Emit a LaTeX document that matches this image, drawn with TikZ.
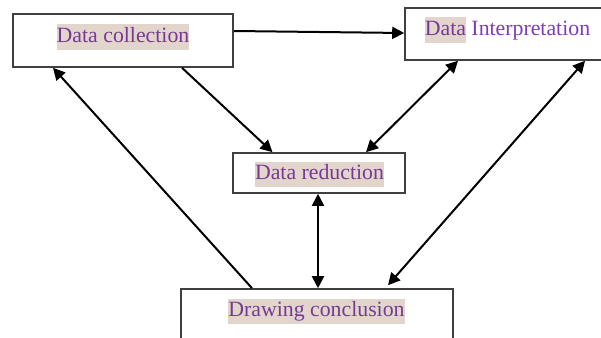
\documentclass[tikz,border=0pt]{standalone}
\usepackage{fontspec}
\setmainfont{Liberation Serif}
\usetikzlibrary{arrows.meta,calc}
\definecolor{hlbg}{RGB}{226,213,204}
\definecolor{txtp}{RGB}{118,58,150}
\definecolor{txtp2}{RGB}{126,60,182}
\definecolor{boxc}{RGB}{64,64,64}
\newcommand{\hlt}[1]{{\setlength{\fboxsep}{0pt}\colorbox{hlbg}{\strut #1}}}
\tikzset{
  box/.style={draw=boxc, line width=1.6pt, fill=white, inner sep=0pt},
  lbl/.style={inner sep=0pt, text=txtp, font=\fontsize{21.8}{25}\selectfont},
  conn/.style={line width=2pt, black, -{Triangle[length=12pt,width=12pt]}},
  bconn/.style={line width=2pt, black, {Triangle[length=12pt,width=12pt]}-{Triangle[length=12pt,width=12pt]}}
}
\begin{document}
\begin{tikzpicture}[x=1pt,y=-1pt]
\useasboundingbox (0,0) rectangle (601,337);
\clip (0,0) rectangle (601,337);
\fill[white] (0,0) rectangle (601,337);
% boxes
\node[box, minimum width=220pt, minimum height=53pt] (DC) at (123,40.5) {};
\node[box, minimum width=204pt, minimum height=52pt] (DI) at (507,34) {};
\node[box, minimum width=172pt, minimum height=40pt] (DR) at (319,173) {};
\node[box, minimum width=272pt, minimum height=60pt] (DCon) at (317,319) {};
% labels
\node[lbl] (tDC) at (123,37) {\hlt{Data collection}};
\node[lbl] (tDI) at (507.5,30) {\hlt{Data} \textcolor{txtp2}{Interpretation}};
\node[lbl] (tDR) at (319.5,174) {\hlt{Data reduction}};
\node[lbl] (tDCon) at (316.5,311) {\hlt{Drawing conclusion}};
% connectors
\draw[conn] ([yshift=9.5pt]DC.east) -- ([yshift=1pt]DI.west);
\draw[conn] ([xshift=59pt]DC.south) -- ([xshift=-46.5pt]DR.north);
\draw[bconn] ([xshift=-49pt]DI.south) -- ([xshift=47pt]DR.north);
\draw[bconn] ([xshift=-1pt]DR.south) -- ([xshift=1pt]DCon.north);
\draw[conn] ([xshift=-65pt]DCon.north) -- ([xshift=-70pt]DC.south);
\draw[bconn] ([xshift=78pt]DI.south) -- ([xshift=71pt,yshift=3pt]DCon.north);
\end{tikzpicture}
\end{document}
